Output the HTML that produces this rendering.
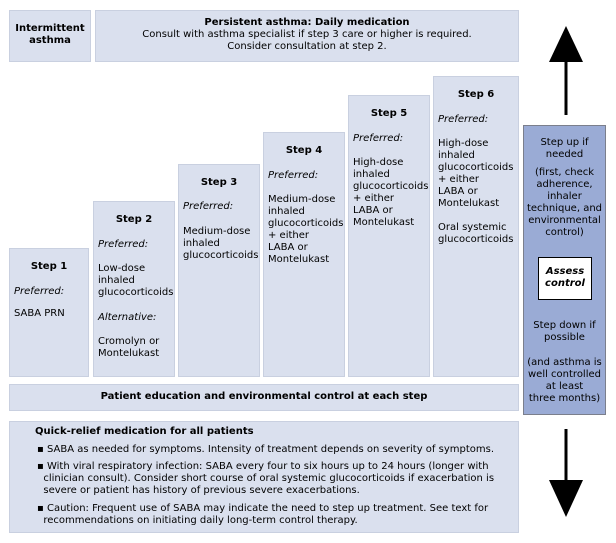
<!DOCTYPE html>
<html><head><meta charset="utf-8"><style>
body{margin:0;width:616px;height:543px;background:#fff;position:relative;overflow:hidden;font-family:"DejaVu Sans","Liberation Sans",sans-serif;font-size:10px;color:#000}
.b{position:absolute;background:#dae0ee;border:1px solid #c9d0e0;box-sizing:border-box}
.t{position:absolute;white-space:nowrap;line-height:12px}
.c{text-align:center}
.bo{font-weight:bold}
i{font-style:italic}
.s{position:absolute;left:4px;white-space:nowrap;line-height:12px}
.h{position:absolute;left:0;right:0;text-align:center;font-weight:bold;line-height:12px}
</style></head><body>
<div class="b" style="left:9px;top:10px;width:82px;height:52px"></div>
<div class="t c bo" style="left:9px;width:82px;top:23px">Intermittent<br>asthma</div>
<div class="b" style="left:95px;top:10px;width:424px;height:52px"></div>
<div class="t c" style="left:95px;width:424px;top:17px"><b>Persistent asthma: Daily medication</b><br>Consult with asthma specialist if step 3 care or higher is required.<br>Consider consultation at step 2.</div>

<div class="b" style="left:9px;top:248px;width:80px;height:129px">
<div class="h" style="top:12px">Step 1</div>
<div class="s" style="top:37px"><i>Preferred:</i></div>
<div class="s" style="top:59px">SABA PRN</div>
</div>
<div class="b" style="left:93px;top:201px;width:82px;height:176px">
<div class="h" style="top:12px">Step 2</div>
<div class="s" style="top:37px"><i>Preferred:</i></div>
<div class="s" style="top:61px">Low-dose<br>inhaled<br>glucocorticoids</div>
<div class="s" style="top:110px"><i>Alternative:</i></div>
<div class="s" style="top:134px">Cromolyn or<br>Montelukast</div>
</div>
<div class="b" style="left:178px;top:164px;width:82px;height:213px">
<div class="h" style="top:12px">Step 3</div>
<div class="s" style="top:36px"><i>Preferred:</i></div>
<div class="s" style="top:61px">Medium-dose<br>inhaled<br>glucocorticoids</div>
</div>
<div class="b" style="left:263px;top:132px;width:82px;height:245px">
<div class="h" style="top:12px">Step 4</div>
<div class="s" style="top:37px"><i>Preferred:</i></div>
<div class="s" style="top:61px">Medium-dose<br>inhaled<br>glucocorticoids<br>+ either<br>LABA or<br>Montelukast</div>
</div>
<div class="b" style="left:348px;top:95px;width:82px;height:282px">
<div class="h" style="top:12px">Step 5</div>
<div class="s" style="top:37px"><i>Preferred:</i></div>
<div class="s" style="top:61px">High-dose<br>inhaled<br>glucocorticoids<br>+ either<br>LABA or<br>Montelukast</div>
</div>
<div class="b" style="left:433px;top:76px;width:86px;height:301px">
<div class="h" style="top:12px">Step 6</div>
<div class="s" style="top:37px"><i>Preferred:</i></div>
<div class="s" style="top:61px">High-dose<br>inhaled<br>glucocorticoids<br>+ either<br>LABA or<br>Montelukast</div>
<div class="s" style="top:145px">Oral systemic<br>glucocorticoids</div>
</div>

<div class="b" style="left:9px;top:384px;width:510px;height:27px"></div>
<div class="t c bo" style="left:9px;width:510px;top:391px">Patient education and environmental control at each step</div>

<div class="b" style="left:9px;top:421px;width:510px;height:112px"></div>
<div class="t bo" style="left:35px;top:426px">Quick-relief medication for all patients</div>
<div class="t" style="left:37px;top:444px">▪ SABA as needed for symptoms. Intensity of treatment depends on severity of symptoms.</div>
<div class="t" style="left:37px;top:461px">▪ With viral respiratory infection: SABA every four to six hours up to 24 hours (longer with<br>&nbsp;&nbsp;clinician consult). Consider short course of oral systemic glucocorticoids if exacerbation is<br>&nbsp;&nbsp;severe or patient has history of previous severe exacerbations.</div>
<div class="t" style="left:37px;top:503px">▪ Caution: Frequent use of SABA may indicate the need to step up treatment. See text for<br>&nbsp;&nbsp;recommendations on initiating daily long-term control therapy.</div>

<div style="position:absolute;left:523px;top:125px;width:83px;height:290px;background:#9aabd5;border:1px solid #7b7f8c;box-sizing:border-box"></div>
<div class="t c" style="left:523px;width:83px;top:137px">Step up if<br>needed</div>
<div class="t c" style="left:523px;width:83px;top:167px">(first, check<br>adherence,<br>inhaler<br>technique, and<br>environmental<br>control)</div>
<div style="position:absolute;left:538px;top:257px;width:54px;height:43px;background:#fff;border:1px solid #000;box-sizing:border-box"></div>
<div class="t c bo" style="left:538px;width:54px;top:266px"><i>Assess<br>control</i></div>
<div class="t c" style="left:523px;width:83px;top:320px">Step down if<br>possible</div>
<div class="t c" style="left:523px;width:83px;top:357px">(and asthma is<br>well controlled<br>at least<br>three months)</div>

<svg style="position:absolute;left:0;top:0" width="616" height="543">
<line x1="566" y1="55" x2="566" y2="115" stroke="#000" stroke-width="3"/>
<polygon points="566,26 549,62 583,62" fill="#000"/>
<line x1="566" y1="429" x2="566" y2="485" stroke="#000" stroke-width="3"/>
<polygon points="566,517 549,480 583,480" fill="#000"/>
</svg>
</body></html>
